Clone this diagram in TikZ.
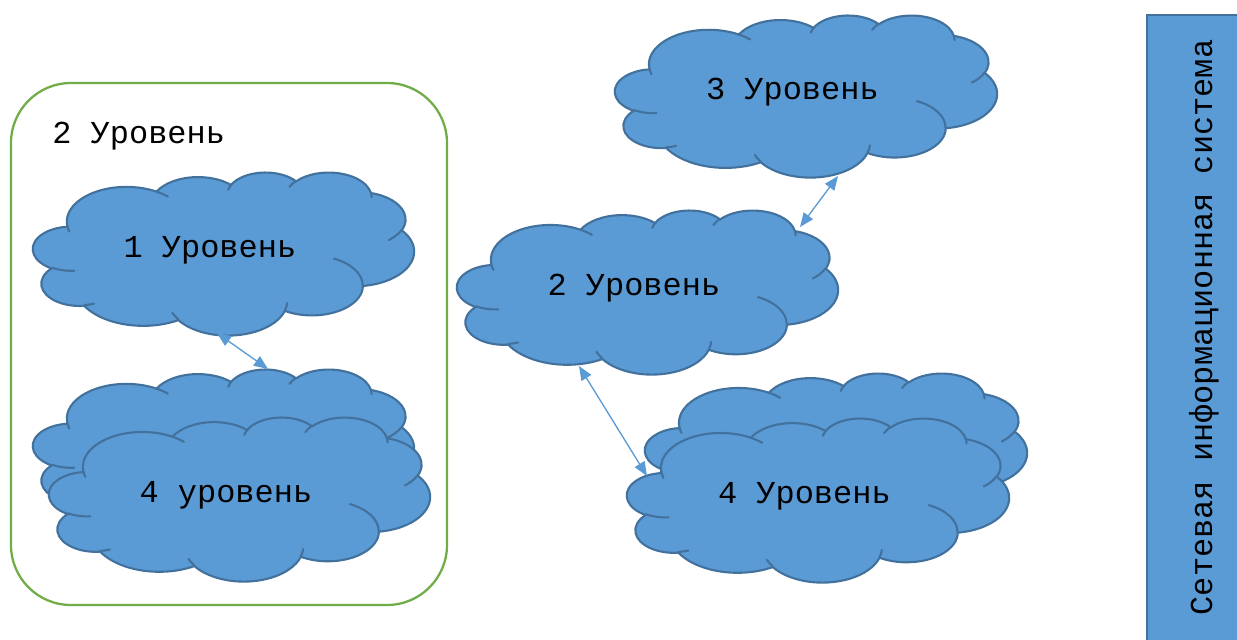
\documentclass[tikz,border=0pt]{standalone}
\usepackage{fontspec}
\usetikzlibrary{arrows.meta}
\newfontfamily\cour{Liberation Mono}
\definecolor{cfill}{HTML}{5B9BD5}
\definecolor{cline}{HTML}{41719C}
\definecolor{gline}{HTML}{70AD47}
% convert OOXML visual angles to parametric angles
\newcommand\ocdef[5]{%
  \pgfmathsetmacro\octs{atan2((#2)*sin(#4),(#3)*cos(#4))}%
  \pgfmathsetmacro\octe{atan2((#2)*sin((#4)+(#5)),(#3)*cos((#4)+(#5)))}%
  \pgfmathsetmacro\octd{Mod(\octe-\octs-(#5)+180,360)-180+(#5)}%
  \expandafter\xdef\csname oc#1s\endcsname{\octs}%
  \expandafter\xdef\csname oc#1d\endcsname{\octd}%
}
\ocdef{A}{6.753}{9.190}{-190.4875}{123.7805}
\ocdef{B}{5.333}{7.267}{-144.1024}{89.9452}
\ocdef{C}{4.365}{5.945}{-145.8079}{99.7230}
\ocdef{D}{4.857}{6.595}{-130.9861}{117.2417}
\ocdef{E}{5.333}{7.273}{-78.7089}{109.0269}
\ocdef{F}{6.775}{9.220}{-46.2811}{130.2690}
\ocdef{G}{5.785}{7.867}{0.6250}{114.0333}
\ocdef{H}{6.752}{9.215}{22.4516}{115.1726}
\ocdef{I}{7.720}{10.543}{66.2426}{75.7110}
\ocdef{J}{4.360}{5.918}{-274.9421}{146.7356}
\ocdef{K}{4.345}{5.945}{-246.8285}{152.5189}
\ocdef{a}{4.345}{5.945}{86.7420}{26.4295}
\ocdef{b}{4.360}{5.918}{73.6105}{11.4475}
\ocdef{c}{6.752}{9.215}{137.6242}{14.0811}
\ocdef{d}{6.752}{9.215}{6.4533}{15.9984}
\ocdef{e}{5.785}{7.867}{-70.2924}{70.9174}
\ocdef{f}{5.333}{7.273}{30.3180}{27.7515}
\ocdef{g}{4.857}{6.595}{-13.7443}{14.8589}
\ocdef{h}{4.857}{6.595}{-149.1815}{18.1954}
\ocdef{i}{4.365}{5.945}{-163.4943}{17.6864}
\ocdef{j}{6.753}{9.190}{-66.7070}{12.3194}
\ocdef{k}{6.753}{9.190}{157.6544}{11.8582}
\newcommand\ocloud[4]{%
  \begin{scope}[shift={(#1,#2)},xscale=#3/43.2,yscale=#4/43.2]
    \filldraw[cloudbody] (3.9,14.37)
      arc[start angle=\ocAs, delta angle=\ocAd, x radius=6.753, y radius=9.190]
      arc[start angle=\ocBs, delta angle=\ocBd, x radius=5.333, y radius=7.267]
      arc[start angle=\ocCs, delta angle=\ocCd, x radius=4.365, y radius=5.945]
      arc[start angle=\ocDs, delta angle=\ocDd, x radius=4.857, y radius=6.595]
      arc[start angle=\ocEs, delta angle=\ocEd, x radius=5.333, y radius=7.273]
      arc[start angle=\ocFs, delta angle=\ocFd, x radius=6.775, y radius=9.220]
      arc[start angle=\ocGs, delta angle=\ocGd, x radius=5.785, y radius=7.867]
      arc[start angle=\ocHs, delta angle=\ocHd, x radius=6.752, y radius=9.215]
      arc[start angle=\ocIs, delta angle=\ocId, x radius=7.720, y radius=10.543]
      arc[start angle=\ocJs, delta angle=\ocJd, x radius=4.360, y radius=5.918]
      arc[start angle=\ocKs, delta angle=\ocKd, x radius=4.345, y radius=5.945]
      -- cycle;
    \draw[cloudinner]
      (4.693,26.177) arc[start angle=\ocas, delta angle=\ocad, x radius=4.345, y radius=5.945]
      (6.928,34.899) arc[start angle=\ocbs, delta angle=\ocbd, x radius=4.360, y radius=5.918]
      (16.478,39.090) arc[start angle=\occs, delta angle=\occd, x radius=6.752, y radius=9.215]
      (28.827,34.751) arc[start angle=\ocds, delta angle=\ocdd, x radius=6.752, y radius=9.215]
      (34.129,22.954) arc[start angle=\oces, delta angle=\oced, x radius=5.785, y radius=7.867]
      (41.798,15.354) arc[start angle=\ocfs, delta angle=\ocfd, x radius=5.333, y radius=7.273]
      (38.324,5.426) arc[start angle=\ocgs, delta angle=\ocgd, x radius=4.857, y radius=6.595]
      (29.078,3.952) arc[start angle=\ochs, delta angle=\ochd, x radius=4.857, y radius=6.595]
      (22.141,4.720) arc[start angle=\ocis, delta angle=\ocid, x radius=4.365, y radius=5.945]
      (14.000,5.192) arc[start angle=\ocjs, delta angle=\ocjd, x radius=6.753, y radius=9.190]
      (4.127,15.789) arc[start angle=\ocks, delta angle=\ockd, x radius=6.753, y radius=9.190];
  \end{scope}%
}
\begin{document}
\begin{tikzpicture}[x=0.02cm,y=-0.02cm,
  cloudbody/.style={fill=cfill, draw=cline, line width=1.2pt, line join=round},
  cloudinner/.style={draw=cline, line width=1.2pt, line cap=round},
  lbl/.style={font=\cour\fontsize{18.2}{20}\selectfont, text=black, inner sep=0pt, anchor=base},
  link/.style={draw=cfill, line width=0.75pt, >={Triangle[length=8pt,width=6.5pt]}, <->},
  groupbox/.style={draw=gline, line width=1.3pt, rounded corners=1.2cm},
  barbox/.style={fill=cfill, draw=cline, line width=1.2pt}]
\useasboundingbox (0,0) rectangle (1237,639);
% group frame
\draw[groupbox] (11,83) rectangle (447,605);
\node[lbl, anchor=base west] (grp) at (52,143) {2 Уровень};
% left group clouds
\ocloud{33}{172}{381}{163}
\node[lbl] (c1) at (209.9,257.3) {1 Уровень};
\ocloud{33}{369}{381}{163}
\ocloud{49}{417}{381}{164}
\node[lbl] (c4l) at (225.9,502.8) {4 уровень};
% middle / right clouds
\ocloud{457}{210}{381}{164}
\node[lbl] (c2) at (633.9,295.8) {2 Уровень};
\ocloud{615}{15}{382}{162}
\node[lbl] (c3) at (792.4,99.8) {3 Уровень};
\ocloud{645}{373}{382}{164}
\ocloud{627}{418}{382}{164}
\node[lbl] (c4r) at (804.4,503.8) {4 Уровень};
% side bar
\draw[barbox] (1147,15) rectangle (1250,650);
\node[lbl, rotate=90] (sys) at (1212,327.5) {Сетевая информационная система};
% connectors
\coordinate (a1s) at (217,333);
\coordinate (a1e) at (268,369);
\coordinate (a2s) at (579,366);
\coordinate (a2e) at (647,476);
\coordinate (a3s) at (800,227);
\coordinate (a3e) at (838,176);
\draw[link] (a1s) -- (a1e);
\draw[link] (a2s) -- (a2e);
\draw[link] (a3s) -- (a3e);
\end{tikzpicture}
\end{document}
